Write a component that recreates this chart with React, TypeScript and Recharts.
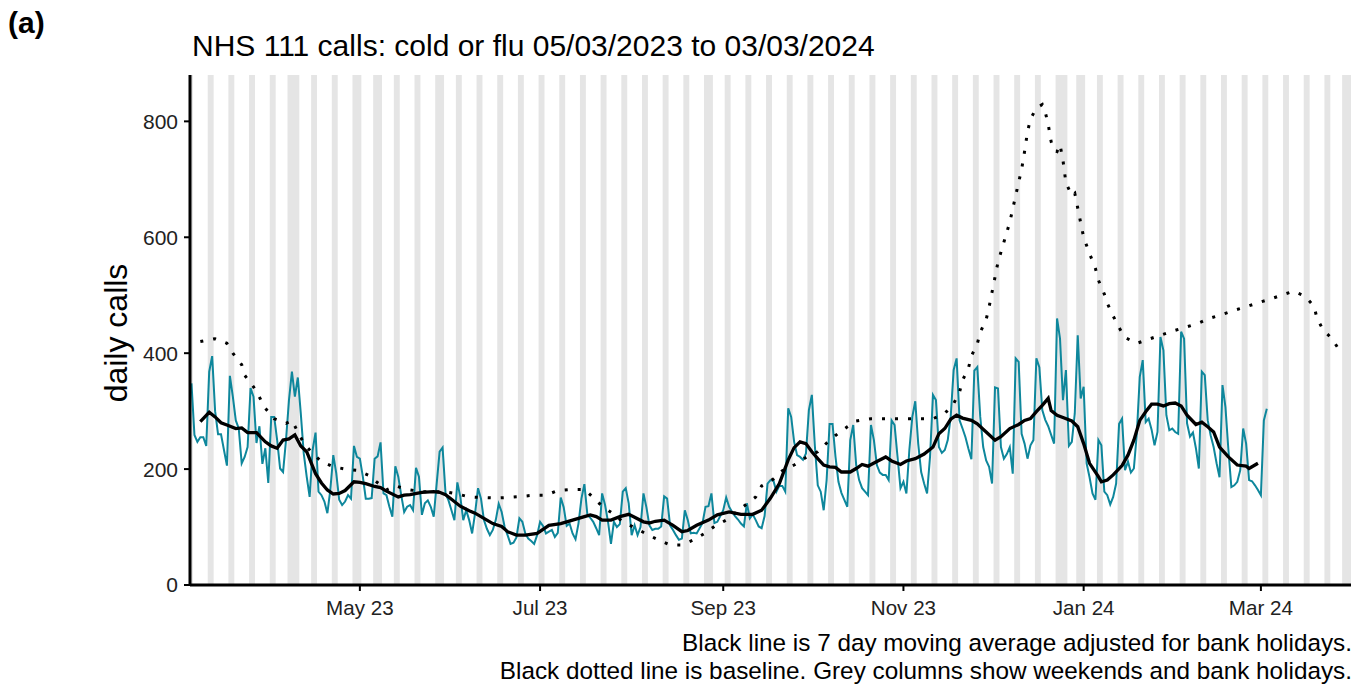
import { LineChart, Line, XAxis, YAxis, ReferenceArea } from "recharts";

const FONT = '"Liberation Sans", Arial, Helvetica, sans-serif';

// day 0 = Sunday 05/03/2023
const startDate = "2023-03-05";
const lastDay = 392;

const tickDays = [57, 118, 180, 241, 302, 362];
const tickLabels = ["May 23", "Jul 23", "Sep 23", "Nov 23", "Jan 24", "Mar 24"];
const yTicks = [0, 200, 400, 600, 800];

const bankHolidays = [
  "2023-04-07", "2023-04-10", "2023-05-01", "2023-05-08", "2023-05-29",
  "2023-08-28", "2023-12-25", "2023-12-26", "2024-01-01", "2024-03-29", "2024-04-01",
];

// daily calls, one row per week (Sun..Sat)
const dailyCalls = [
  348, 259, 247, 255, 255, 240, 368,
  395, 300, 260, 260, 233, 206, 361,
  325, 284, 270, 210, 221, 238, 340,
  325, 245, 274, 209, 236, 176, 290,
  290, 250, 201, 195, 250, 319, 368,
  325, 358, 296, 227, 187, 152, 233,
  263, 161, 155, 144, 124, 164, 224,
  193, 147, 138, 144, 155, 149, 240,
  221, 218, 187, 149, 149, 150, 218,
  222, 246, 158, 155, 135, 118, 205,
  187, 155, 126, 135, 138, 129, 202,
  187, 121, 141, 146, 135, 118, 175,
  230, 237, 158, 146, 129, 112, 177,
  152, 112, 129, 112, 89, 124, 167,
  149, 112, 97, 86, 95, 112, 140,
  126, 100, 86, 71, 73, 82, 115,
  109, 89, 80, 76, 71, 86, 109,
  102, 89, 92, 95, 83, 90, 151,
  134, 102, 106, 89, 79, 106, 149,
  174, 122, 116, 109, 98, 86, 158,
  138, 109, 71, 109, 100, 105, 161,
  167, 141, 86, 103, 86, 100, 158,
  134, 103, 95, 97, 97, 101, 153,
  149, 103, 95, 86, 78, 80, 129,
  112, 89, 90, 89, 98, 107, 135,
  136, 158, 107, 109, 119, 129, 151,
  135, 126, 119, 113, 106, 101, 141,
  115, 122, 112, 101, 98, 119, 175,
  181, 180, 161, 171, 171, 161, 305,
  290, 247, 224, 221, 216, 227, 302,
  328, 241, 172, 161, 129, 181, 278,
  278, 221, 178, 159, 147, 135, 250,
  276, 207, 181, 167, 161, 155, 276,
  250, 207, 194, 190, 190, 181, 284,
  276, 221, 167, 178, 158, 233, 290,
  317, 244, 195, 175, 158, 221, 328,
  319, 238, 228, 233, 250, 290, 371,
  391, 284, 270, 255, 235, 217, 370,
  376, 290, 238, 215, 204, 175, 341,
  339, 238, 218, 226, 238, 192, 391,
  385, 261, 244, 218, 241, 250, 391,
  376, 302, 285, 274, 259, 244, 460,
  425, 319, 371, 240, 247, 296, 431,
  322, 342, 210, 186, 158, 147, 250,
  241, 161, 155, 139, 152, 175, 278,
  287, 198, 213, 194, 201, 261, 359,
  388, 281, 287, 268, 241, 264, 428,
  405, 293, 267, 270, 264, 261, 437,
  425, 279, 256, 263, 236, 201, 368,
  362, 284, 258, 238, 210, 186, 345,
  307, 233, 169, 172, 178, 198, 270,
  244, 181, 179, 172, 164, 155, 284,
  304,
];

// 7 day moving average
const maDays = [
  3, 6, 8, 10, 12, 15, 17, 19, 22, 25, 27, 29, 31, 33, 35, 37, 39, 42, 44, 46, 48, 50, 52, 55, 57,
  59, 62, 64, 66, 70, 72, 74, 78, 82, 84, 86, 88, 91, 94, 96, 99, 102, 105, 107, 110, 113, 117, 121,
  125, 129, 133, 135, 137, 139, 142, 145, 148, 150, 153, 155, 157, 160, 163, 166, 168, 171, 175, 178,
  182, 186, 190, 193, 196, 199, 202, 204, 206, 208, 210, 212, 214, 216, 218, 220, 223, 225, 227, 229,
  232, 235, 237, 240, 242, 245, 248, 251, 253, 255, 257, 259, 261, 264, 266, 269, 272, 274, 277, 280,
  282, 284, 286, 288, 290, 291, 293, 295, 298, 300, 302, 304, 307, 308, 310, 312, 315, 317, 319, 321,
  323, 325, 327, 329, 331, 333, 335, 337, 340, 342, 344, 346, 348, 351, 354, 357, 358, 360, 361,
];
const maValues = [
  282, 298, 290, 280, 276, 270, 271, 263, 263, 247, 240, 236, 250, 252, 259, 240, 230, 192, 176, 164, 157, 158, 163, 178, 177,
  175, 170, 168, 162, 152, 155, 156, 160, 161, 160, 156, 148, 136, 128, 124, 115, 106, 101, 92, 86, 86, 89, 103,
  106, 112, 118, 121, 118, 112, 112, 118, 122, 117, 109, 107, 110, 112, 103, 92, 94, 103, 112, 121,
  126, 122, 122, 129, 150, 175, 216, 237, 247, 244, 230, 218, 207, 204, 203, 195, 195, 201, 208, 205,
  213, 221, 214, 208, 214, 218, 226, 238, 261, 270, 286, 293, 288, 284, 278, 264, 250, 256, 270, 277,
  284, 287, 299, 310, 322, 301, 293, 289, 283, 273, 244, 210, 187, 178, 181, 190, 206, 224, 250, 284,
  299, 312, 312, 309, 313, 314, 309, 293, 277, 281, 273, 264, 238, 221, 207, 205, 201, 207, 210,
];

// baseline (dotted)
const baseDays = [
  3, 8, 12, 14, 17, 18, 21, 23, 25, 28, 32, 34, 36, 38, 41, 44, 48, 52, 56, 60, 66, 69, 73, 78, 86,
  90, 94, 98, 103, 107, 112, 116, 120, 124, 129, 133, 136, 139, 143, 146, 150, 154, 158, 162, 166, 170,
  174, 177, 181, 188, 191, 193, 197, 200, 204, 208, 212, 215, 218, 222, 225, 230, 251, 255, 258, 260,
  261, 263, 264, 266, 267, 269, 270, 273, 277, 280, 281, 282, 283, 284, 286, 288, 289, 290, 291, 292,
  293, 294, 295, 296, 298, 299, 301, 302, 304, 306, 307, 309, 310, 312, 314, 316, 320, 324, 328, 332,
  336, 341, 344, 349, 353, 357, 361, 365, 369, 373, 377, 380, 381, 383, 386, 389,
];
const baseValues = [
  420, 425, 417, 400, 380, 362, 342, 324, 305, 287, 279, 284, 264, 245, 227, 213, 204, 200, 198, 189, 164, 171, 165, 161, 161,
  157, 152, 151, 150, 151, 153, 155, 155, 163, 165, 165, 151, 136, 122, 109, 99, 88, 78, 69, 69, 78,
  90, 101, 112, 140, 152, 171, 183, 197, 207, 220, 230, 245, 258, 273, 283, 287, 287, 296, 313, 333,
  353, 374, 395, 416, 436, 458, 480, 557, 626, 695, 717, 748, 782, 804, 823, 829, 816, 795, 765, 750,
  748, 760, 733, 694, 672, 676, 625, 600, 572, 546, 526, 502, 486, 464, 444, 427, 417, 424, 431, 438,
  444, 452, 459, 467, 474, 480, 487, 493, 500, 507, 498, 481, 460, 441, 425, 402,
];

const DAY_MS = 86400000;
const startMs = Date.parse(startDate);
const dayOf = (s: string) => Math.round((Date.parse(s) - startMs) / DAY_MS);

// weekends and bank holidays -> grey columns
const holidaySet = new Set(bankHolidays.map(dayOf));
const greyRanges: [number, number][] = [];
for (let d = -1; d <= lastDay + 1; d++) {
  const wd = new Date(startMs + d * DAY_MS).getUTCDay();
  if (wd === 0 || wd === 6 || holidaySet.has(d)) {
    const last = greyRanges[greyRanges.length - 1];
    if (last && last[1] === d - 0.5) last[1] = d + 0.5;
    else greyRanges.push([d - 0.5, d + 0.5]);
  }
}

type Row = { day: number; calls: number | null; ma: number | null; base: number | null };
const rows: Row[] = [];
for (let d = 0; d <= 389; d++) {
  rows.push({ day: d, calls: d < dailyCalls.length ? dailyCalls[d] : null, ma: null, base: null });
}
maDays.forEach((d, i) => (rows[d].ma = maValues[i]));
baseDays.forEach((d, i) => (rows[d].base = baseValues[i]));

export default function App() {
  return (
    <div
      style={{
        position: "absolute",
        left: 0,
        top: 0,
        width: 1367,
        height: 684,
        background: "#fff",
        fontFamily: FONT,
      }}
    >
      <LineChart
        width={1367}
        height={684}
        data={rows}
        margin={{ top: 75, right: 16, bottom: 69, left: 0 }}
      >
        {greyRanges.map(([a, b]) => (
          <ReferenceArea
            key={a}
            x1={a}
            x2={b}
            fill="#e5e5e5"
            fillOpacity={1}
            stroke="none"
            ifOverflow="hidden"
          />
        ))}
        <XAxis
          dataKey="day"
          type="number"
          domain={[-0.5, 392.5]}
          allowDataOverflow
          ticks={tickDays}
          interval={0}
          tickFormatter={(v) => tickLabels[tickDays.indexOf(v)]}
          axisLine={{ stroke: "#000", strokeWidth: 3 }}
          tickLine={{ stroke: "#000", strokeWidth: 2 }}
          tickSize={6}
          tickMargin={9}
          tick={{ fill: "#222", fontSize: 20.6, fontFamily: FONT }}
          height={30}
        />
        <YAxis
          type="number"
          domain={[0, 880]}
          allowDataOverflow
          ticks={yTicks}
          interval={0}
          axisLine={{ stroke: "#000", strokeWidth: 3 }}
          tickLine={{ stroke: "#000", strokeWidth: 2 }}
          tickSize={6}
          tickMargin={6}
          tick={{ fill: "#222", fontSize: 21, fontFamily: FONT }}
          width={190}
        />
        <Line
          dataKey="calls"
          type="linear"
          stroke="#0e879c"
          strokeWidth={2}
          dot={false}
          activeDot={false}
          isAnimationActive={false}
        />
        <Line
          dataKey="base"
          type="linear"
          stroke="#000"
          strokeWidth={3}
          strokeDasharray="3 10"
          dot={false}
          activeDot={false}
          connectNulls
          isAnimationActive={false}
        />
        <Line
          dataKey="ma"
          type="linear"
          stroke="#000"
          strokeWidth={3.3}
          dot={false}
          activeDot={false}
          connectNulls
          isAnimationActive={false}
        />
      </LineChart>
      <svg
        width={1367}
        height={684}
        style={{ position: "absolute", left: 0, top: 0, pointerEvents: "none" }}
        fontFamily={FONT}
      >
        <text x={8} y={33} fontSize={30} fontWeight="bold" fill="#000">
          (a)
        </text>
        <text x={192} y={56} fontSize={30} fill="#000">
          NHS 111 calls: cold or flu 05/03/2023 to 03/03/2024
        </text>
        <text
          transform="translate(127,333) rotate(-90)"
          textAnchor="middle"
          fontSize={32}
          fill="#000"
        >
          daily calls
        </text>
        <text x={1352} y={651} fontSize={24.3} textAnchor="end" fill="#000">
          Black line is 7 day moving average adjusted for bank holidays.
        </text>
        <text x={1352} y={679} fontSize={24.3} textAnchor="end" fill="#000">
          Black dotted line is baseline. Grey columns show weekends and bank holidays.
        </text>
      </svg>
    </div>
  );
}
